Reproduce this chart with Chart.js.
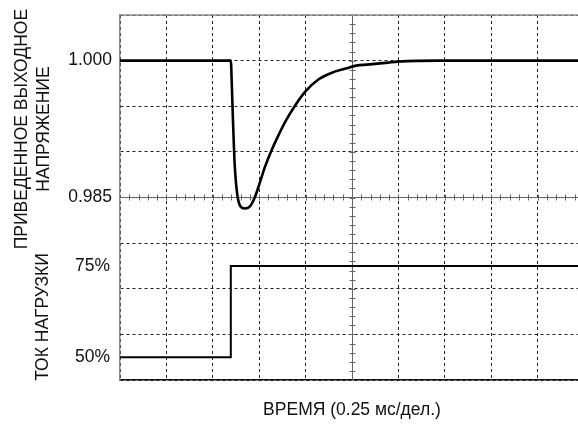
<!DOCTYPE html>
<html lang="ru">
<head>
     <meta charset="UTF-8">
     <title>Переходная характеристика</title>
     <style>
          body{ margin:0; overflow:hidden; background:#fff; }
     </style>
</head>
<body>
<canvas id="scope" width="600" height="426"></canvas>

<script src="https://cdn.jsdelivr.net/npm/chart.js"></script>
<script>
     "use strict";

     // время, мс (0.25 мс/дел.)
     const voltTime = [0, 0.597, 0.603, 0.609, 0.618, 0.632, 0.650, 0.672, 0.699, 0.726, 0.753, 0.780, 0.815, 0.851, 0.896, 0.941, 0.998, 1.067, 1.139, 1.211, 1.273, 1.331, 1.444, 1.498, 1.724, 2.5];
     const voltValue = [1.000, 1.000, 0.9970, 0.9933, 0.9886, 0.9853, 0.9840, 0.9838, 0.9840, 0.9850, 0.9866, 0.9883, 0.9901, 0.9917, 0.9935, 0.9950, 0.9966, 0.9979, 0.99865, 0.9991, 0.99945, 0.99956, 0.99978, 0.99989, 1.000, 1.000];

     const loadTime = [0, 0.597, 2.5];
     const loadCurrent = [50, 75, 75];

     const voltTicks = [1.000, 0.985];
     const currentTicks = [50, 75];

     const timeTitle = "ВРЕМЯ (0.25 мс/дел.)";
     const voltTitle = ["ПРИВЕДЕННОЕ ВЫХОДНОЕ", "НАПРЯЖЕНИЕ"];
     const currentTitle = "ТОК НАГРУЗКИ";

     const FONT = "'Liberation Sans', Arial, sans-serif";
     Chart.defaults.font.family = FONT;
     Chart.defaults.font.size = 17.5;
     Chart.defaults.color = "#111";

     const px = v => Math.round(v) + 0.5;
     const noPad = s => { s.paddingTop = 0; s.paddingBottom = 0; s.paddingLeft = 0; s.paddingRight = 0; };

     // центральные линии с мелкими делениями, верхняя рамка, подписи осей
     const scopeMarks = {
          id: "scopeMarks",
          beforeDatasetsDraw(chart){
               const {ctx, chartArea:a, scales:{x, y}} = chart;
               const cx = px(x.getPixelForValue(1.25));
               const cy = px(y.getPixelForValue(0.985));
               const sx = (x.getPixelForValue(0.25) - x.getPixelForValue(0)) / 5;
               const sy = (y.getPixelForValue(0.965) - y.getPixelForValue(0.970)) / 5;
               ctx.save();
               ctx.strokeStyle = "#666";
               ctx.lineWidth = 1;
               ctx.beginPath();
               ctx.moveTo(cx, a.top); ctx.lineTo(cx, a.bottom);
               ctx.moveTo(a.left, cy); ctx.lineTo(a.right, cy);
               for(let i = 1; a.left + i*sx < a.right; i++){
                    const p = px(a.left + i*sx);
                    ctx.moveTo(p, cy-3); ctx.lineTo(p, cy+3);
               }
               for(let i = 1; a.top + i*sy < a.bottom; i++){
                    const p = px(a.top + i*sy);
                    ctx.moveTo(cx-3, p); ctx.lineTo(cx+3, p);
               }
               ctx.stroke();
               ctx.strokeStyle = "#888";
               ctx.lineWidth = 1.5;
               ctx.beginPath();
               ctx.moveTo(a.left, a.top); ctx.lineTo(a.right, a.top);
               ctx.stroke();
               ctx.restore();
          },
          afterDraw(chart){
               const {ctx, chartArea:a, scales:{y, y2}} = chart;
               const vMid = (y.getPixelForValue(voltTicks[0]) + y.getPixelForValue(voltTicks[1])) / 2;
               const cMid = (y2.getPixelForValue(75) + a.bottom) / 2 - 6;
               ctx.save();
               ctx.fillStyle = "#111";
               ctx.font = "17.5px " + FONT;
               ctx.textAlign = "center";
               ctx.textBaseline = "middle";
               const vert = (text, x, yy) => {
                    ctx.save();
                    ctx.translate(x, yy);
                    ctx.rotate(-Math.PI/2);
                    ctx.fillText(text, 0, 0);
                    ctx.restore();
               };
               vert(voltTitle[0], 22, vMid);
               vert(voltTitle[1], 44, vMid);
               vert(currentTitle, 43, cMid);
               ctx.restore();
          }
     };

     new Chart(document.getElementById("scope"), {
          type: "line",
          data: {
               datasets: [{
                    label: "Напряжение",
                    data: voltTime.map((t, i) => ({x: t, y: voltValue[i]})),
                    yAxisID: "y",
                    borderColor: "#000",
                    borderWidth: 2.6,
                    pointRadius: 0,
                    cubicInterpolationMode: "monotone"
               },{
                    label: "Ток",
                    data: loadTime.map((t, i) => ({x: t, y: loadCurrent[i]})),
                    yAxisID: "y2",
                    borderColor: "#000",
                    borderWidth: 2,
                    pointRadius: 0,
                    stepped: "before"
               }]
          },
          options: {
               responsive: false,
               animation: false,
               layout: { padding: {top: 15, right: 16, bottom: 0, left: 0} },
               plugins: { legend: {display: false}, tooltip: {enabled: false} },
               scales: {
                    x: {
                         type: "linear",
                         min: 0, max: 2.5,
                         ticks: { display: false, stepSize: 0.25 },
                         grid: { color: "#222", lineWidth: 1, drawTicks: false },
                         border: { color: "#111", width: 1.5, dash: [3,3] },
                         title: { display: true, text: timeTitle, padding: {top: 20, bottom: 5}, font: {size: 17.5} },
                         afterFit: noPad
                    },
                    y: {
                         position: "left",
                         weight: 1,
                         min: 0.965, max: 1.005,
                         ticks: {
                              stepSize: 0.005,
                              padding: 8,
                              callback: v => voltTicks.some(t => Math.abs(t - v) < 1e-6) ? v.toFixed(3) : ""
                         },
                         grid: { color: "#222", lineWidth: 1, drawTicks: false },
                         border: { color: "#888", width: 1.5, dash: [3,3] },
                         afterFit: s => { s.width = 120; noPad(s); }
                    },
                    y2: {
                         position: "left",
                         weight: 0,
                         min: 43.75, max: 143.75,
                         afterBuildTicks: s => { s.ticks = currentTicks.map(v => ({value: v})); },
                         // mirror: подписи не обрезаются по ширине оси
                         ticks: { mirror: true, crossAlign: "near", padding: -45, callback: v => v + "%" },
                         grid: { display: false, drawTicks: false },
                         border: { display: false },
                         afterFit: s => { s.width = 0; noPad(s); }
                    }
               }
          },
          plugins: [scopeMarks]
     });
</script>
</body>
</html>
